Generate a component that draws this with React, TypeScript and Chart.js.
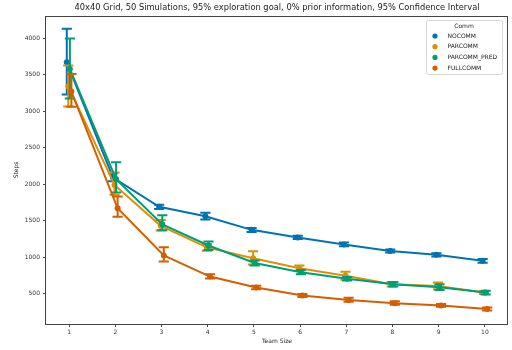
import React, { useEffect, useRef } from 'react';
import { Chart, registerables } from 'chart.js';
Chart.register(...registerables);

const teamSizes = [1, 2, 3, 4, 5, 6, 7, 8, 9, 10];
const seriesNames = ['NOCOMM', 'PARCOMM', 'PARCOMM_PRED', 'FULLCOMM'];
const colors = ['#0173B2', '#DE8F05', '#029E73', '#D55E00'];
const dodge = [-0.05, -0.017, 0.017, 0.05];
const yTicks = [500, 1000, 1500, 2000, 2500, 3000, 3500, 4000];

const nocommMean = [3670, 2090, 1690, 1560, 1375, 1270, 1175, 1085, 1035, 950];
const nocommLo = [3230, 2040, 1660, 1515, 1345, 1250, 1150, 1065, 1010, 925];
const nocommHi = [4130, 2150, 1720, 1610, 1400, 1295, 1200, 1105, 1055, 975];

const parcommMean = [3340, 1990, 1430, 1135, 985, 850, 745, 630, 605, 515];
const parcommLo = [3065, 1855, 1365, 1090, 900, 815, 690, 600, 560, 495];
const parcommHi = [3625, 2160, 1510, 1180, 1080, 885, 800, 660, 655, 535];

const predMean = [3580, 2070, 1450, 1160, 920, 795, 705, 630, 590, 515];
const predLo = [3175, 1885, 1370, 1100, 885, 765, 680, 600, 550, 490];
const predHi = [3995, 2300, 1575, 1215, 955, 825, 730, 660, 630, 540];

const fullMean = [3270, 1670, 1025, 735, 585, 475, 415, 370, 340, 290];
const fullLo = [3060, 1555, 940, 710, 560, 455, 390, 350, 320, 270];
const fullHi = [3510, 1830, 1135, 765, 610, 495, 445, 395, 360, 310];

const means = [nocommMean, parcommMean, predMean, fullMean];
const lows = [nocommLo, parcommLo, predLo, fullLo];
const highs = [nocommHi, parcommHi, predHi, fullHi];

const FONT = 'DejaVu Sans';
const CAP_HALF = 0.11;

const errorBarPlugin = {
  id: 'errorBars',
  afterDatasetDraw(chart: any, args: any) {
    const i = args.index;
    const ctx = chart.ctx;
    const xs = chart.scales.x;
    const ys = chart.scales.y;
    ctx.save();
    ctx.strokeStyle = colors[i];
    ctx.lineWidth = 2;
    teamSizes.forEach((t, k) => {
      const xc = xs.getPixelForValue(t + dodge[i]);
      const cw = xs.getPixelForValue(t + CAP_HALF) - xs.getPixelForValue(t);
      const y1 = ys.getPixelForValue(lows[i][k]);
      const y2 = ys.getPixelForValue(highs[i][k]);
      ctx.beginPath();
      ctx.moveTo(xc, y1);
      ctx.lineTo(xc, y2);
      ctx.moveTo(xc - cw, y1);
      ctx.lineTo(xc + cw, y1);
      ctx.moveTo(xc - cw, y2);
      ctx.lineTo(xc + cw, y2);
      ctx.stroke();
    });
    ctx.restore();
  },
};

const framePlugin = {
  id: 'frame',
  afterDraw(chart: any) {
    const { ctx, chartArea } = chart;
    ctx.save();
    ctx.strokeStyle = '#444';
    ctx.lineWidth = 1;
    ctx.strokeRect(Math.round(chartArea.left) - 0.5, Math.round(chartArea.top) + 0.5,
      Math.round(chartArea.right - chartArea.left), Math.round(chartArea.bottom - chartArea.top));
    ctx.restore();
  },
};

const legendPlugin = {
  id: 'innerLegend',
  afterDraw(chart: any) {
    const ctx = chart.ctx;
    const x0 = 426, y0 = 20, w = 76, h = 54;
    ctx.save();
    ctx.fillStyle = 'rgba(255,255,255,0.8)';
    ctx.strokeStyle = '#d8d8d8';
    ctx.lineWidth = 1;
    ctx.beginPath();
    (ctx as any).roundRect(x0 + 0.5, y0 + 0.5, w, h, 2);
    ctx.fill();
    ctx.stroke();
    ctx.fillStyle = '#222';
    ctx.font = `6px "${FONT}"`;
    ctx.textBaseline = 'middle';
    ctx.textAlign = 'center';
    ctx.fillText('Comm', x0 + w / 2, 26);
    ctx.textAlign = 'left';
    seriesNames.forEach((name, i) => {
      const y = 36 + i * 10.7;
      ctx.fillStyle = colors[i];
      ctx.beginPath();
      ctx.arc(435, y, 2.6, 0, Math.PI * 2);
      ctx.fill();
      ctx.fillStyle = '#222';
      ctx.fillText(name, 447.5, y);
    });
    ctx.restore();
  },
};

export default function App() {
  const ref = useRef<HTMLCanvasElement>(null);
  useEffect(() => {
    if (!ref.current) return;
    const datasets = seriesNames.map((name, i) => ({
      label: name,
      data: teamSizes.map((t, k) => ({ x: t + dodge[i], y: means[i][k] })),
      borderColor: colors[i],
      backgroundColor: colors[i],
      borderWidth: 2,
      pointRadius: 3,
      pointBorderWidth: 0,
      pointBackgroundColor: colors[i],
      tension: 0,
      order: 3 - i,
    }));
    const chart = new Chart(ref.current, {
      type: 'line',
      data: { datasets },
      plugins: [errorBarPlugin, framePlugin, legendPlugin],
      options: {
        responsive: false,
        animation: false,
        devicePixelRatio: 1,
        layout: { padding: { left: 0, right: 1, top: 0, bottom: 0 } },
        plugins: {
          legend: { display: false },
          tooltip: { enabled: false },
          title: {
            display: true,
            fullSize: false,
            text: '40x40 Grid, 50 Simulations, 95% exploration goal, 0% prior information, 95% Confidence Interval',
            color: '#222',
            font: { family: FONT, size: 8.3, weight: 'normal' },
            padding: { top: 2.5, bottom: 3.5 },
          },
        },
        scales: {
          x: {
            type: 'linear',
            min: 0.5,
            max: 10.5,
            afterBuildTicks: (s: any) => { s.ticks = teamSizes.map((v) => ({ value: v })); },
            afterFit: (s: any) => { s.height = 26; },
            ticks: { color: '#333', font: { family: FONT, size: 6 }, padding: 2, callback: (v: any) => String(v) },
            grid: { display: true, drawOnChartArea: false, drawTicks: true, tickLength: 3, color: '#444' },
            border: { display: false },
            title: { display: true, text: 'Team Size', color: '#222', font: { family: FONT, size: 6 }, padding: { top: 0, bottom: 5.4 } },
          },
          y: {
            type: 'linear',
            min: 85,
            max: 4305,
            afterBuildTicks: (s: any) => { s.ticks = yTicks.map((v) => ({ value: v })); },
            afterFit: (s: any) => { s.width = 46; },
            ticks: { color: '#333', font: { family: FONT, size: 6 }, padding: 3, callback: (v: any) => String(v) },
            grid: { display: true, drawOnChartArea: false, drawTicks: true, tickLength: 3, color: '#444' },
            border: { display: false },
            title: { display: true, text: 'Steps', color: '#222', font: { family: FONT, size: 6 }, padding: { top: 12.4, bottom: 0 } },
          },
        },
      },
    });
    return () => chart.destroy();
  }, []);
  return (
    <div style={{ position: 'fixed', left: 0, top: 0, width: 512, height: 350, background: '#fff' }}>
      <canvas ref={ref} width={512} height={350} style={{ width: 512, height: 350 }} />
    </div>
  );
}
